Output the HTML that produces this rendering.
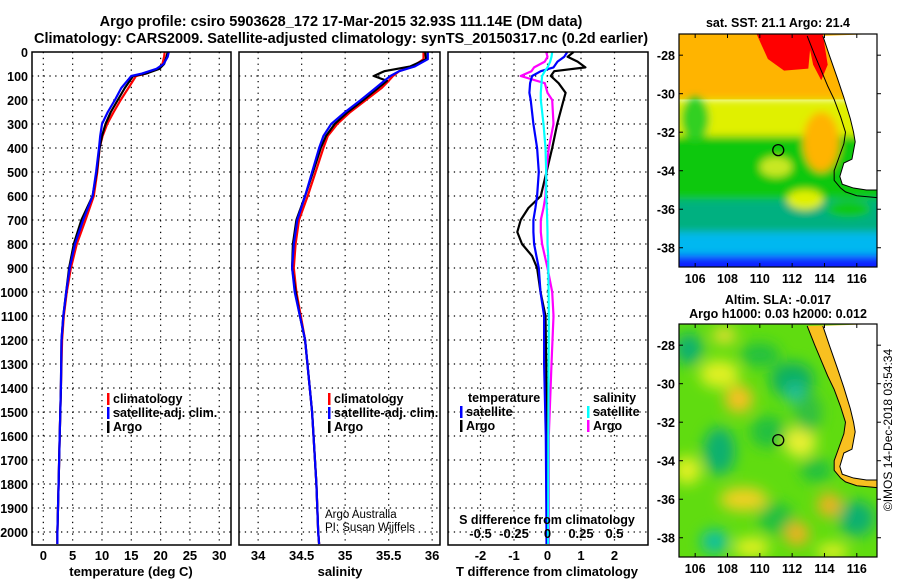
<!DOCTYPE html>
<html><head><meta charset="utf-8"><style>
html,body{margin:0;padding:0;background:#fff;}
svg{display:block;font-family:"Liberation Sans",Arial,sans-serif;}
.b{font-weight:bold;}
</style></head><body>
<svg id="fig" width="900" height="580" viewBox="0 0 900 580" xmlns="http://www.w3.org/2000/svg">
<text x="341" y="26" class="b" font-size="14.5" text-anchor="middle">Argo profile: csiro 5903628_172 17-Mar-2015 32.93S 111.14E (DM data)</text>
<text x="341" y="43" class="b" font-size="14.5" text-anchor="middle">Climatology: CARS2009. Satellite-adjusted climatology: synTS_20150317.nc (0.2d earlier)</text>
<g id="panels"></g>
<g id="maps"></g>
<text transform="translate(892,430) rotate(-90)" font-size="12" text-anchor="middle">©IMOS 14-Dec-2018 03:54:34</text>
</svg>
<script>
// ---------- data ----------
const depthT = [0,20,50,70,90,100,150,200,250,300,350,400,500,600,700,800,900,1000,1100,1200,1400,1600,1800,2000,2050];
const tempArgo = [21.2,21.0,20.6,19.8,17.5,15.3,13.9,12.7,11.5,10.6,10.0,9.6,9.1,8.4,6.5,5.2,4.4,3.9,3.4,3.1,3.0,2.8,2.6,2.4,2.4];
const tempClim = [20.7,20.6,20.3,19.5,17.5,15.8,14.5,13.2,12.0,10.9,10.1,9.6,9.2,8.6,7.2,5.7,4.7,4.0,3.5,3.2,3.0,2.8,2.6,2.4,2.4];
const tempSat  = [21.4,21.2,20.5,19.3,16.8,15.0,13.3,12.2,11.0,10.0,9.7,9.5,9.0,8.4,6.8,5.4,4.5,3.9,3.4,3.1,3.0,2.8,2.6,2.4,2.4];
const depthS = [0,30,60,80,100,120,150,200,250,300,350,400,500,600,700,800,900,1000,1100,1200,1500,1800,2000,2050];
const salArgo = [35.92,35.93,35.75,35.45,35.33,35.48,35.38,35.21,35.03,34.88,34.78,34.72,34.63,34.54,34.44,34.40,34.39,34.43,34.48,34.54,34.62,34.67,34.69,34.70];
const salClim = [35.90,35.90,35.78,35.62,35.55,35.50,35.42,35.24,35.06,34.91,34.80,34.75,34.66,34.57,34.47,34.43,34.41,34.44,34.49,34.54,34.62,34.67,34.69,34.70];
const salSat  = [35.95,35.95,35.80,35.62,35.52,35.45,35.35,35.18,35.00,34.84,34.75,34.70,34.62,34.54,34.45,34.41,34.39,34.42,34.48,34.54,34.62,34.67,34.69,34.70];
const depthD = [0,20,40,64,80,100,130,170,200,300,400,500,600,650,700,750,800,850,900,1000,1100,1300,1600,2000,2050];
const dTArgo = [0.78,0.6,0.9,1.13,0.2,0.1,0.33,0.54,0.48,0.29,0.14,-0.03,-0.2,-0.57,-0.8,-0.9,-0.76,-0.46,-0.31,-0.21,-0.06,-0.04,-0.02,0,0];
const dTSat  = [0.59,0.5,0.3,0.18,-0.2,-0.46,-0.52,-0.54,-0.5,-0.42,-0.31,-0.26,-0.31,-0.36,-0.42,-0.42,-0.4,-0.33,-0.26,-0.21,-0.1,-0.1,-0.05,-0.03,-0.03];
const dSArgo = [-0.01,0.0,-0.02,-0.1,-0.12,-0.2,-0.02,0.0,0.035,0.045,0.01,-0.01,-0.015,-0.03,-0.05,-0.05,-0.04,-0.02,0,0.035,0.045,0.03,0.01,0.01,0.01];
const dSSat  = [0.035,0.03,0.02,0.0,-0.02,-0.04,-0.045,-0.05,-0.05,-0.03,-0.015,-0.01,-0.01,-0.005,-0.002,0,0,0.005,0.006,0.008,0.01,0.008,0.006,0.005,0.005];
const depthTicks = [0,100,200,300,400,500,600,700,800,900,1000,1100,1200,1300,1400,1500,1600,1700,1800,1900,2000];
const tTicks = [0,5,10,15,20,25,30];
const sTicks = [34,34.5,35,35.5,36];
const dTTicks = [-2,-1,0,1,2];
const dSTickLabels = ["-0.5","-0.25","0","0.25","0.5"];
const dSTicks = [-0.5,-0.25,0,0.25,0.5];

const NS='http://www.w3.org/2000/svg';
function el(tag,attrs,parent,txt){const e=document.createElementNS(NS,tag);for(const k in attrs)e.setAttribute(k,attrs[k]);if(txt!==undefined)e.textContent=txt;parent.appendChild(e);return e;}
const yD = d => 52 + (d/2000)*480;
const G=document.getElementById('panels');

function panel(name,x0,x1,xmin,xmax){
  const fx = v => x0 + (v-xmin)/(xmax-xmin)*(x1-x0);
  const g=el('g',{},G);
  
  
  return {g,fx,x0,x1};
}
function grid(p,ticks){
  depthTicks.forEach(d=>{ if(d>0){ const l=el('line',{x1:p.x0,x2:p.x1,y1:yD(d),y2:yD(d),stroke:'#000','stroke-width':1.2,'stroke-dasharray':'1.3,4.5'},p.g);
     }});
  ticks.forEach(t=>{ const l=el('line',{x1:p.fx(t),x2:p.fx(t),y1:52,y2:545,stroke:'#000','stroke-width':1.2,'stroke-dasharray':'1.3,4.5'},p.g);
     });
}
function frame(p){const r=el('rect',{x:p.x0,y:52,width:p.x1-p.x0,height:493,fill:'none',stroke:'#000','stroke-width':1.5},p.g);
   }
function line(p,depths,vals,color,name,fx){
  const f=fx||p.fx;
  const pts=depths.map((d,i)=>f(vals[i]).toFixed(1)+','+yD(d).toFixed(1)).join(' ');
  const l=el('polyline',{points:pts,fill:'none',stroke:color,'stroke-width':2.2,'stroke-linejoin':'round'},p.g);
   
}
function xlabels(p,ticks,labels,y,fx){
  const f=fx||p.fx;
  ticks.forEach((t,i)=>{const tx=el('text',{x:f(t),y:y,'font-size':13,'class':'b','text-anchor':'middle'},p.g,labels?labels[i]:String(t));
     });
}
function legend(g,x,y,color,label,name){
  const r=el('rect',{x:x,y:y-10,width:2.5,height:12,fill:color},g);
   
  const t=el('text',{x:x+6,y:y,'font-size':12.5,'class':'b'},g,label);
   
}

// Panel 1 temperature
const p1=panel('temperature-panel',32,231,-1.93,32);
grid(p1,tTicks);
line(p1,depthT,tempClim,'#ff0000','climatology-temp-line');
line(p1,depthT,tempArgo,'#000000','argo-temp-line');
line(p1,depthT,tempSat,'#0000ff','satellite-temp-line');
frame(p1);
depthTicks.forEach(d=>{const t=el('text',{x:28,y:yD(d)+5,'font-size':12.5,'class':'b','text-anchor':'end'},p1.g,String(d));
   });
xlabels(p1,tTicks,null,560);
{const t=el('text',{x:131,y:576,'font-size':13,'class':'b','text-anchor':'middle'},p1.g,'temperature (deg C)');}
legend(p1.g,107,403,'#ff0000','climatology','legend-climatology');
legend(p1.g,107,417,'#0000ff','satellite-adj. clim.','legend-satellite');
legend(p1.g,107,431,'#000000','Argo','legend-argo');

// Panel 2 salinity
const p2=panel('salinity-panel',239,440,33.78,36.09);
grid(p2,sTicks);
line(p2,depthS,salClim,'#ff0000','climatology-sal-line');
line(p2,depthS,salArgo,'#000000','argo-sal-line');
line(p2,depthS,salSat,'#0000ff','satellite-sal-line');
frame(p2);
xlabels(p2,sTicks,null,560);
{const t=el('text',{x:340,y:576,'font-size':13,'class':'b','text-anchor':'middle'},p2.g,'salinity');}
legend(p2.g,328,403,'#ff0000','climatology','legend-climatology-2');
legend(p2.g,328,417,'#0000ff','satellite-adj. clim.','legend-satellite-2');
legend(p2.g,328,431,'#000000','Argo','legend-argo-2');
{const t=el('text',{x:325,y:518,'font-size':11.5},p2.g,'Argo Australia');
 const t2=el('text',{x:325,y:531,'font-size':11.5},p2.g,'PI: Susan Wijffels');}

// Panel 3 differences
const p3=panel('difference-panel',448,648,-2.97,3.0);
const fS = v => p3.fx(v*4);
grid(p3,dTTicks);
line(p3,depthD,dTArgo,'#000000','argo-temp-diff-line');
line(p3,depthD,dSArgo,'#ff00ff','argo-sal-diff-line',fS);
line(p3,depthD,dTSat,'#0000ff','satellite-temp-diff-line');
line(p3,depthD,dSSat,'#00ffff','satellite-sal-diff-line',fS);
frame(p3);
xlabels(p3,dTTicks,null,560);
xlabels(p3,dSTicks,dSTickLabels,538,fS);
{const t=el('text',{x:547,y:524,'font-size':12.5,'class':'b','text-anchor':'middle'},p3.g,'S difference from climatology');
 const t2=el('text',{x:547,y:576,'font-size':13,'class':'b','text-anchor':'middle'},p3.g,'T difference from climatology');}
{const t=el('text',{x:468,y:402,'font-size':12.5,'class':'b'},p3.g,'temperature');
 const t2=el('text',{x:593,y:402,'font-size':12.5,'class':'b'},p3.g,'salinity');}
legend(p3.g,460,416,'#0000ff','satellite','legend-temp-satellite');
legend(p3.g,460,430,'#000000','Argo','legend-temp-argo');
legend(p3.g,587,416,'#00ffff','satellite','legend-sal-satellite');
legend(p3.g,587,430,'#ff00ff','Argo','legend-sal-argo');

// ---------- maps ----------
const M=document.getElementById('maps');
const lonTicks=[106,108,110,112,114,116];
const latTicks=[-28,-30,-32,-34,-36,-38];
const coastLon=[112.93,113.4,113.9,114.2,114.6,115.0,115.3,115.2,114.9,114.6,114.6,115.0,115.3,116.0,117.25];
const coastLat=[-27.0,-28.0,-29.0,-29.6,-30.3,-31.2,-32.0,-32.6,-33.3,-34.0,-34.5,-34.9,-35.1,-35.3,-35.4];
const landLon=[113.9,114.3,114.8,115.2,115.6,115.8,115.9,115.7,115.2,114.95,115.1,115.8,116.6,117.25];
const landLat=[-27.0,-28.0,-29.2,-30.2,-31.3,-32.0,-32.5,-33.4,-33.6,-34.3,-34.7,-34.9,-35.0,-35.0];
const floatLon=111.14, floatLat=-32.93;

function map(name,top,title1,title2,drawField){
  const x0=679,x1=877,y0=top,y1=top+233;
  const fx=l=>x0+(l-105)/(117.25-105)*(x1-x0);
  const fy=la=>y0+(-26.9-la)/(39-26.9)*(y1-y0);
  const g=el('g',{},M);
  
  
  const cid='clip'+top;
  const cp=el('clipPath',{id:cid},g); el('rect',{x:x0,y:y0,width:x1-x0,height:y1-y0},cp);
  const fg=el('g',{'clip-path':'url(#'+cid+')'},g);
  drawField(fg,fx,fy,x0,x1,y0,y1);
  const landPts=landLon.map((l,i)=>fx(l)+','+fy(landLat[i])).join(' ');
  const stripPts=coastLon.map((l,i)=>fx(l)+','+fy(coastLat[i])).join(' ');
  const land=el('polygon',{points:landPts+' '+x1+','+fy(-35.0)+' '+x1+','+y0,fill:'#fff'},fg);
   
  const cl=el('polyline',{points:stripPts,fill:'none',stroke:'#000','stroke-width':1},fg);
   
  const ll=el('polyline',{points:landPts,fill:'none',stroke:'#000','stroke-width':1},fg);
   
  const c=el('circle',{cx:fx(floatLon),cy:fy(floatLat),r:5.5,fill:'none',stroke:'#000','stroke-width':1.3},g);
   
  const fr=el('rect',{x:x0,y:y0,width:x1-x0,height:y1-y0,fill:'none',stroke:'#000','stroke-width':1.2},g);
   
  lonTicks.forEach(l=>{el('line',{x1:fx(l),x2:fx(l),y1:y0,y2:y0+4,stroke:'#000'},g);el('line',{x1:fx(l),x2:fx(l),y1:y1,y2:y1-4,stroke:'#000'},g);
    const t=el('text',{x:fx(l),y:y1+16,'font-size':12.5,'class':'b','text-anchor':'middle'},g,String(l));
     });
  latTicks.forEach(la=>{el('line',{x1:x0,x2:x0+4,y1:fy(la),y2:fy(la),stroke:'#000'},g);el('line',{x1:x1,x2:x1+4,y1:fy(la),y2:fy(la),stroke:'#000'},g);
    const t=el('text',{x:x0-4,y:fy(la)+5,'font-size':12.5,'class':'b','text-anchor':'end'},g,String(la));
     });
  const tt=el('text',{x:778,y:top-(title2?20:7),'font-size':12.5,'class':'b','text-anchor':'middle'},g,title1);
   
  if(title2){const t2=el('text',{x:778,y:top-6,'font-size':12.5,'class':'b','text-anchor':'middle'},g,title2);
     }
}
const defs=el('defs',{},M);
const flt=el('filter',{id:'blur4',x:'-50%',y:'-50%',width:'200%',height:'200%'},defs); el('feGaussianBlur',{stdDeviation:4},flt);
const flt2=el('filter',{id:'blur8',x:'-50%',y:'-50%',width:'200%',height:'200%'},defs); el('feGaussianBlur',{stdDeviation:7},flt2);

map('sst-map',34,'sat. SST: 21.1 Argo: 21.4',null,(g,fx,fy,x0,x1,y0,y1)=>{
  el('rect',{x:x0-20,y:fy(-26),width:x1-x0+40,height:fy(-30.3)-fy(-26),fill:'#ffb400'},g);
  const bl=el('g',{filter:'url(#blur4)'},g);
  el('rect',{x:x0-20,y:fy(-30.3),width:x1-x0+40,height:fy(-32.2)-fy(-30.3),fill:'#e0f000'},bl);
  el('rect',{x:x0-20,y:fy(-32.2),width:x1-x0+40,height:fy(-35.5)-fy(-32.2),fill:'#10c810'},bl);
  el('rect',{x:x0-20,y:fy(-35.5),width:x1-x0+40,height:fy(-37.2)-fy(-35.5),fill:'#00b080'},bl);
  el('rect',{x:x0-20,y:fy(-37.2),width:x1-x0+40,height:fy(-38.4)-fy(-37.2),fill:'#00b8f0'},bl);
  el('rect',{x:x0-20,y:fy(-38.4),width:x1-x0+40,height:20,fill:'#1020ff'},bl);
  el('ellipse',{cx:fx(106),cy:fy(-31.3),rx:14,ry:22,fill:'#30d020'},bl);
  el('ellipse',{cx:fx(113.8),cy:fy(-32.5),rx:18,ry:30,fill:'#ffb400'},bl);
  el('ellipse',{cx:fx(112.8),cy:fy(-35.5),rx:18,ry:10,fill:'#e0f000'},bl);
  el('ellipse',{cx:fx(111),cy:fy(-33.8),rx:16,ry:10,fill:'#c8e820'},bl);
  el('ellipse',{cx:fx(115.5),cy:fy(-36),rx:22,ry:8,fill:'#10c810'},bl);
  el('polygon',{points:[fx(109.8)+','+y0,fx(113.2)+','+y0,fx(113.0)+','+fy(-28.7),fx(111.5)+','+fy(-28.8),fx(110.5)+','+fy(-28.2)].join(' '),fill:'#ff0000'},g);
  el('polygon',{points:[fx(112.9)+','+y0,fx(113.9)+','+y0,fx(114.2)+','+fy(-28.5),fx(113.8)+','+fy(-29.3),fx(113.3)+','+fy(-28.5)].join(' '),fill:'#ff0000'},g);
});
map('sla-map',324,'Altim. SLA: -0.017','Argo h1000: 0.03 h2000: 0.012',(g,fx,fy,x0,x1,y0,y1)=>{
  el('rect',{x:x0,y:y0,width:x1-x0,height:y1-y0,fill:'#60dc10'},g);
  const bl=el('g',{filter:'url(#blur8)'},g);
  const blob=(lo,la,rx,ry,c)=>el('ellipse',{cx:fx(lo),cy:fy(la),rx:rx,ry:ry,fill:c},bl);
  blob(107.5,-29.5,20,14,'#e0f020'); blob(108.7,-30.8,14,14,'#f8c020'); blob(107.8,-27.5,12,8,'#e8e030');
  blob(105.6,-28.2,14,16,'#10b070'); blob(112,-29.8,22,18,'#10b060'); blob(110,-28.5,20,12,'#20c040');
  blob(107.5,-33.5,16,24,'#10b070'); blob(110.5,-32.5,18,16,'#20c040'); blob(112.5,-33,16,16,'#e8f030');
  blob(112.2,-30.5,10,10,'#20c0a0'); blob(105.5,-34.5,14,14,'#e0f020'); blob(109,-36,24,12,'#f0d020');
  blob(111,-37,18,16,'#20c040'); blob(112.3,-37.8,12,12,'#f0b020'); blob(114.3,-36.3,12,12,'#f0b020');
  blob(116,-37,18,18,'#10b070'); blob(107.2,-38.2,14,12,'#10c0a0'); blob(113.5,-34.5,16,12,'#20c040');
  blob(109.5,-38.5,18,10,'#e0f020'); blob(114.5,-38.7,16,8,'#e0f020'); blob(113,-31.5,14,20,'#30c040');
  const strip=coastLon.map((l,i)=>fx(l)+','+fy(coastLat[i])).join(' ');
  el('polygon',{points:strip+' '+x1+','+y0,fill:'#f8c020'},g);
});
</script>
</body></html>
